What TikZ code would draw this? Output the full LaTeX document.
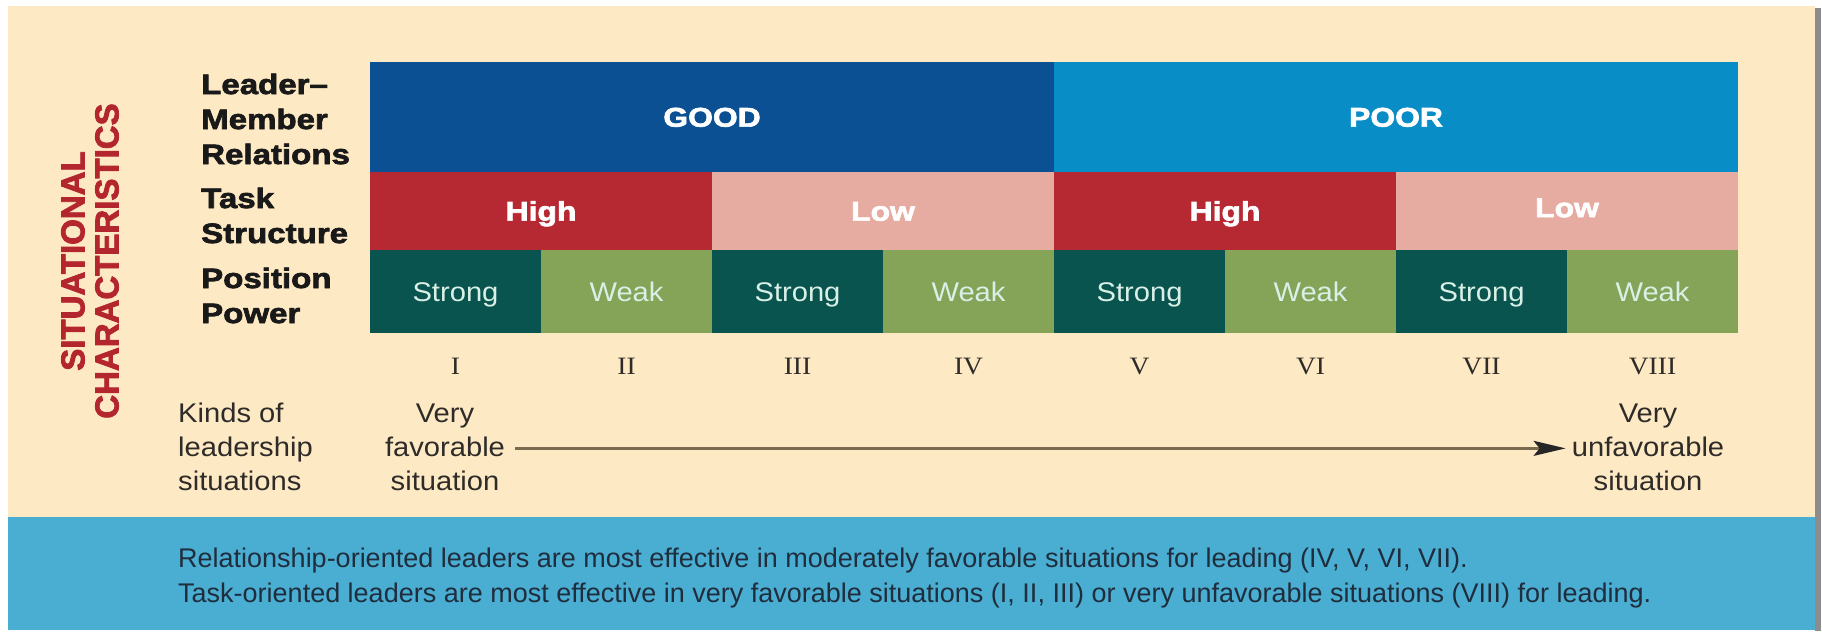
\documentclass[tikz,border=0pt]{standalone}
\usepackage{fontspec}
\usetikzlibrary{arrows.meta}
\setmainfont{Liberation Sans}
\newfontfamily\heavyfont[FakeStretch=1.18,FakeBold=2.5]{Liberation Sans Bold}
\newfontfamily\redfont[FakeBold=2.5]{Liberation Sans Bold}
\newfontfamily\bodyfont[FakeStretch=1.08]{Liberation Sans}
\newfontfamily\notefont{Liberation Sans}
\newfontfamily\numfont[FakeStretch=1.1]{Liberation Serif}

\definecolor{cream}{HTML}{FDEAC5}
\definecolor{bandblue}{HTML}{4AAED2}
\definecolor{goodblue}{HTML}{0B5092}
\definecolor{poorblue}{HTML}{088DC7}
\definecolor{highred}{HTML}{B72932}
\definecolor{lowpink}{HTML}{E6ACA2}
\definecolor{strongteal}{HTML}{0A5450}
\definecolor{weakgreen}{HTML}{86A458}
\definecolor{labelred}{HTML}{B4262E}
\definecolor{mint}{HTML}{D8F0E6}
\definecolor{inkgray}{HTML}{2E2B28}
\definecolor{noteink}{HTML}{1F2D3D}
\definecolor{arrowbrown}{HTML}{7A6A50}

\tikzset{
  cell/.style={inner sep=0pt, outer sep=0pt, anchor=center, text depth=0pt},
  lmrcell/.style={cell, minimum width=684pt, minimum height=110pt, text=white,
    font=\heavyfont\fontsize{27}{30}\selectfont, text height=19.3pt},
  taskcell/.style={cell, minimum width=342pt, minimum height=78pt, text=white,
    font=\heavyfont\fontsize{27}{30}\selectfont, text height=19.3pt},
  powercell/.style={cell, minimum width=171pt, minimum height=83pt, text=mint,
    font=\bodyfont\fontsize{27}{30}\selectfont, text height=19.3pt},
  rowlabel/.style={inner sep=0pt, anchor=base west, text=black!90,
    font=\heavyfont\fontsize{28}{30}\selectfont},
  numeral/.style={inner sep=0pt, anchor=base, text=inkgray,
    font=\numfont\fontsize{25}{28}\selectfont},
  bodyline/.style={inner sep=0pt, text=inkgray,
    font=\bodyfont\fontsize{27}{30}\selectfont},
  noteline/.style={inner sep=0pt, anchor=base west, text=noteink,
    font=\notefont\fontsize{27}{30}\selectfont},
  scalearrow/.style={draw=arrowbrown, line width=2.5pt,
    -{Stealth[length=32pt, width=15pt, inset=6pt, color=black!85]}}
}

\begin{document}
\begin{tikzpicture}[x=1pt, y=-1pt]
\useasboundingbox (0,0) rectangle (1822,633);
% page and panels
\fill[white] (0,0) rectangle (1822,633);
\fill[cream] (8,6) rectangle (1815,517);
\fill[bandblue] (8,517) rectangle (1815,630);
\fill[black!45] (1815,8) rectangle (1821,631);

% vertical heading
\node[rotate=90, align=center, inner sep=0pt, text=labelred,
      font=\redfont\fontsize{33}{34}\selectfont] (sitchar) at (90,261)
      {SITUATIONAL\\CHARACTERISTICS};

% row headings
\node[rowlabel] (lmr1) at (201,94)  {Leader–};
\node[rowlabel] (lmr2) at (201,129) {Member};
\node[rowlabel] (lmr3) at (201,164) {Relations};
\node[rowlabel] (ts1)  at (201,208) {Task};
\node[rowlabel] (ts2)  at (201,243) {Structure};
\node[rowlabel] (pp1)  at (201,288) {Position};
\node[rowlabel] (pp2)  at (201,323) {Power};

% leader-member relations
\node[lmrcell, fill=goodblue] (good) at (712,117)  {GOOD};
\node[lmrcell, fill=poorblue] (poor) at (1396,117) {POOR};

% task structure
\node[taskcell, fill=highred] (high1) at (541,211)  {High};
\node[taskcell, fill=lowpink] (low1)  at (883,211)  {Low};
\node[taskcell, fill=highred] (high2) at (1225,211) {High};
\node[taskcell, fill=lowpink, text depth=7pt] (low2) at (1567,211) {Low};

% position power and situation numbers
\foreach \i/\kind/\col/\num in {1/Strong/strongteal/I, 2/Weak/weakgreen/II,
    3/Strong/strongteal/III, 4/Weak/weakgreen/IV, 5/Strong/strongteal/V,
    6/Weak/weakgreen/VI, 7/Strong/strongteal/VII, 8/Weak/weakgreen/VIII}{
  \node[powercell, fill=\col] (pow\i) at ({370+171*(\i-0.5)},291.5) {\kind};
  \node[numeral] (num\i) at ({370+171*(\i-0.5)},374) {\num};
}

% favourability scale
\node[bodyline, anchor=base west] (kind1) at (178,422) {Kinds of};
\node[bodyline, anchor=base west] (kind2) at (178,456) {leadership};
\node[bodyline, anchor=base west] (kind3) at (178,490) {situations};

\node[bodyline, anchor=base] (fav1) at (445,422) {Very};
\node[bodyline, anchor=base] (fav2) at (445,456) {favorable};
\node[bodyline, anchor=base] (fav3) at (445,490) {situation};

\node[bodyline, anchor=base] (unf1) at (1648,422) {Very};
\node[bodyline, anchor=base] (unf2) at (1648,456) {unfavorable};
\node[bodyline, anchor=base] (unf3) at (1648,490) {situation};

\draw[scalearrow, shorten <=10pt, shorten >=6pt]
  ([yshift=-2pt]fav2.east) -- ([yshift=-2pt]unf2.west);

% conclusions
\node[noteline] (note1) at (178,567)
  {Relationship-oriented leaders are most effective in moderately favorable situations for leading (IV, V, VI, VII).};
\node[noteline] (note2) at (178,602)
  {Task-oriented leaders are most effective in very favorable situations (I, II, III) or very unfavorable situations (VIII) for leading.};
\end{tikzpicture}
\end{document}
